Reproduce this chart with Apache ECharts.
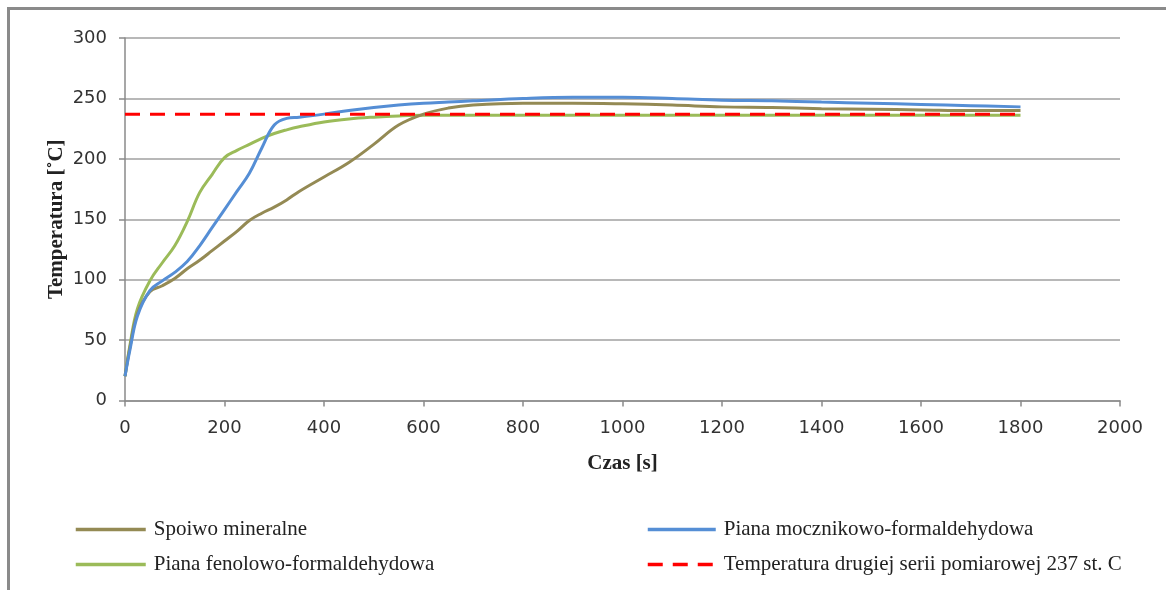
<!DOCTYPE html>
<html>
<head>
<meta charset="utf-8">
<script src="https://cdn.jsdelivr.net/npm/echarts@6/dist/echarts.min.js"></script>
<style>
    html, body { margin: 0; padding: 0; background: #fff; }
    .frame { position: absolute; left: 7px; top: 7px; width: 1180px; height: 600px;
             border-top: 3px solid #8a8a8a; border-left: 3px solid #8a8a8a; }
    #chart { position: absolute; left: 0; top: 0; width: 1166px; height: 590px; }
</style>
</head>
<body>
<div class="frame"></div>
<div id="chart"></div>
<script>
// czas pomiaru [s]
const czas = [0, 10, 25, 50, 75, 100, 125, 150, 175, 200, 225, 250, 275, 300, 325, 350,
    400, 450, 500, 550, 600, 650, 700, 800, 900, 1000, 1100, 1200, 1300, 1400, 1500, 1600, 1700, 1800]

const spoiwo = [20, 44, 72, 90, 95, 101, 109, 116, 124, 132, 140, 149, 155, 160, 166, 173,
    185, 197, 212, 228, 237, 242, 244.5, 246, 246, 245.5, 244.5, 243, 242.5, 241.5, 241, 240.5, 240, 240]

const mocznikowa = [20, 42, 70, 91, 99, 106, 115, 128, 143, 158, 173, 188, 209, 228, 233.5, 234.5,
    237, 240, 242.5, 244.5, 246, 247, 248, 250, 251, 251, 250, 248.5, 248, 247, 246, 245, 244, 243]

const fenolowa = [20, 46, 76, 99, 114, 128, 148, 172, 187, 201, 207, 212, 217, 221, 224, 226.5,
    230.5, 233, 234.5, 235.5, 236, 236, 236, 236, 236, 236, 236, 236, 236, 236, 236, 236, 236, 236]

const seriaCzas = [0, 1800]
const seriaTemp = [237, 237]

const nazwy = ['Spoiwo mineralne', 'Piana fenolowo-formaldehydowa',
    'Piana mocznikowo-formaldehydowa', 'Temperatura drugiej serii pomiarowej 237 st. C']

function pary(xs, ys) {
    return xs.map((x, i) => [x, ys[i]])
}

const chart = echarts.init(document.getElementById('chart'))

const legendText = { fontFamily: 'Liberation Serif', fontSize: 21, color: '#222', padding: [0, 0, 0, 3] }

chart.setOption({
    animation: false,
    grid: { left: 125, right: 46, top: 38, bottom: 189.5 },
    legend: [
        {
            orient: 'vertical', left: 74, top: 519, padding: 0, itemWidth: 70, itemHeight: 14, itemGap: 14,
            itemStyle: { opacity: 0 }, lineStyle: { width: 3.5 }, textStyle: legendText,
            data: [nazwy[0], nazwy[1]]
        },
        {
            orient: 'vertical', left: 646, top: 519, padding: 0, itemWidth: 68, itemHeight: 14, itemGap: 14,
            itemStyle: { opacity: 0 }, lineStyle: { width: 3.5 }, textStyle: legendText,
            data: [nazwy[2], nazwy[3]]
        }
    ],
    xAxis: {
        type: 'value', min: 0, max: 2000, interval: 200,
        name: 'Czas [s]', nameLocation: 'middle', nameGap: 53,
        nameTextStyle: { fontFamily: 'Liberation Serif', fontWeight: 'bold', fontSize: 21, color: '#222' },
        axisLine: { lineStyle: { color: '#8a8a8a', width: 1.5 } },
        axisTick: { show: true, length: 6, lineStyle: { color: '#8a8a8a', width: 1.5 } },
        axisLabel: { margin: 19, fontFamily: 'DejaVu Sans', fontSize: 18, color: '#333',
            formatter: v => String(v) },
        splitLine: { show: false }
    },
    yAxis: {
        type: 'value', min: 0, max: 300, interval: 50,
        name: 'Temperatura [˚C]', nameLocation: 'middle', nameGap: 58, nameMoveOverlap: false,
        nameTextStyle: { fontFamily: 'Liberation Serif', fontWeight: 'bold', fontSize: 21, color: '#222' },
        axisLine: { show: true, lineStyle: { color: '#8a8a8a', width: 1.5 } },
        axisTick: { show: true, length: 6, lineStyle: { color: '#8a8a8a', width: 1.5 } },
        axisLabel: { margin: 18, fontFamily: 'DejaVu Sans', fontSize: 18, color: '#333' },
        splitLine: { lineStyle: { color: '#a0a0a0', width: 1.5 } }
    },
    series: [
        {
            name: nazwy[0], type: 'line', smooth: 0.4, symbol: 'none', z: 3,
            lineStyle: { color: '#948a54', width: 3 }, itemStyle: { color: '#948a54' },
            data: pary(czas, spoiwo)
        },
        {
            name: nazwy[1], type: 'line', smooth: 0.4, symbol: 'none', z: 2,
            lineStyle: { color: '#9bbb59', width: 3 }, itemStyle: { color: '#9bbb59' },
            data: pary(czas, fenolowa)
        },
        {
            name: nazwy[2], type: 'line', smooth: 0.4, symbol: 'none', z: 4,
            lineStyle: { color: '#558ed5', width: 3 }, itemStyle: { color: '#558ed5' },
            data: pary(czas, mocznikowa)
        },
        {
            name: nazwy[3], type: 'line', symbol: 'none', z: 5,
            lineStyle: { color: '#ff0000', width: 3, type: [15, 10] }, itemStyle: { color: '#ff0000' },
            data: pary(seriaCzas, seriaTemp)
        }
    ]
})
</script>
</body>
</html>
